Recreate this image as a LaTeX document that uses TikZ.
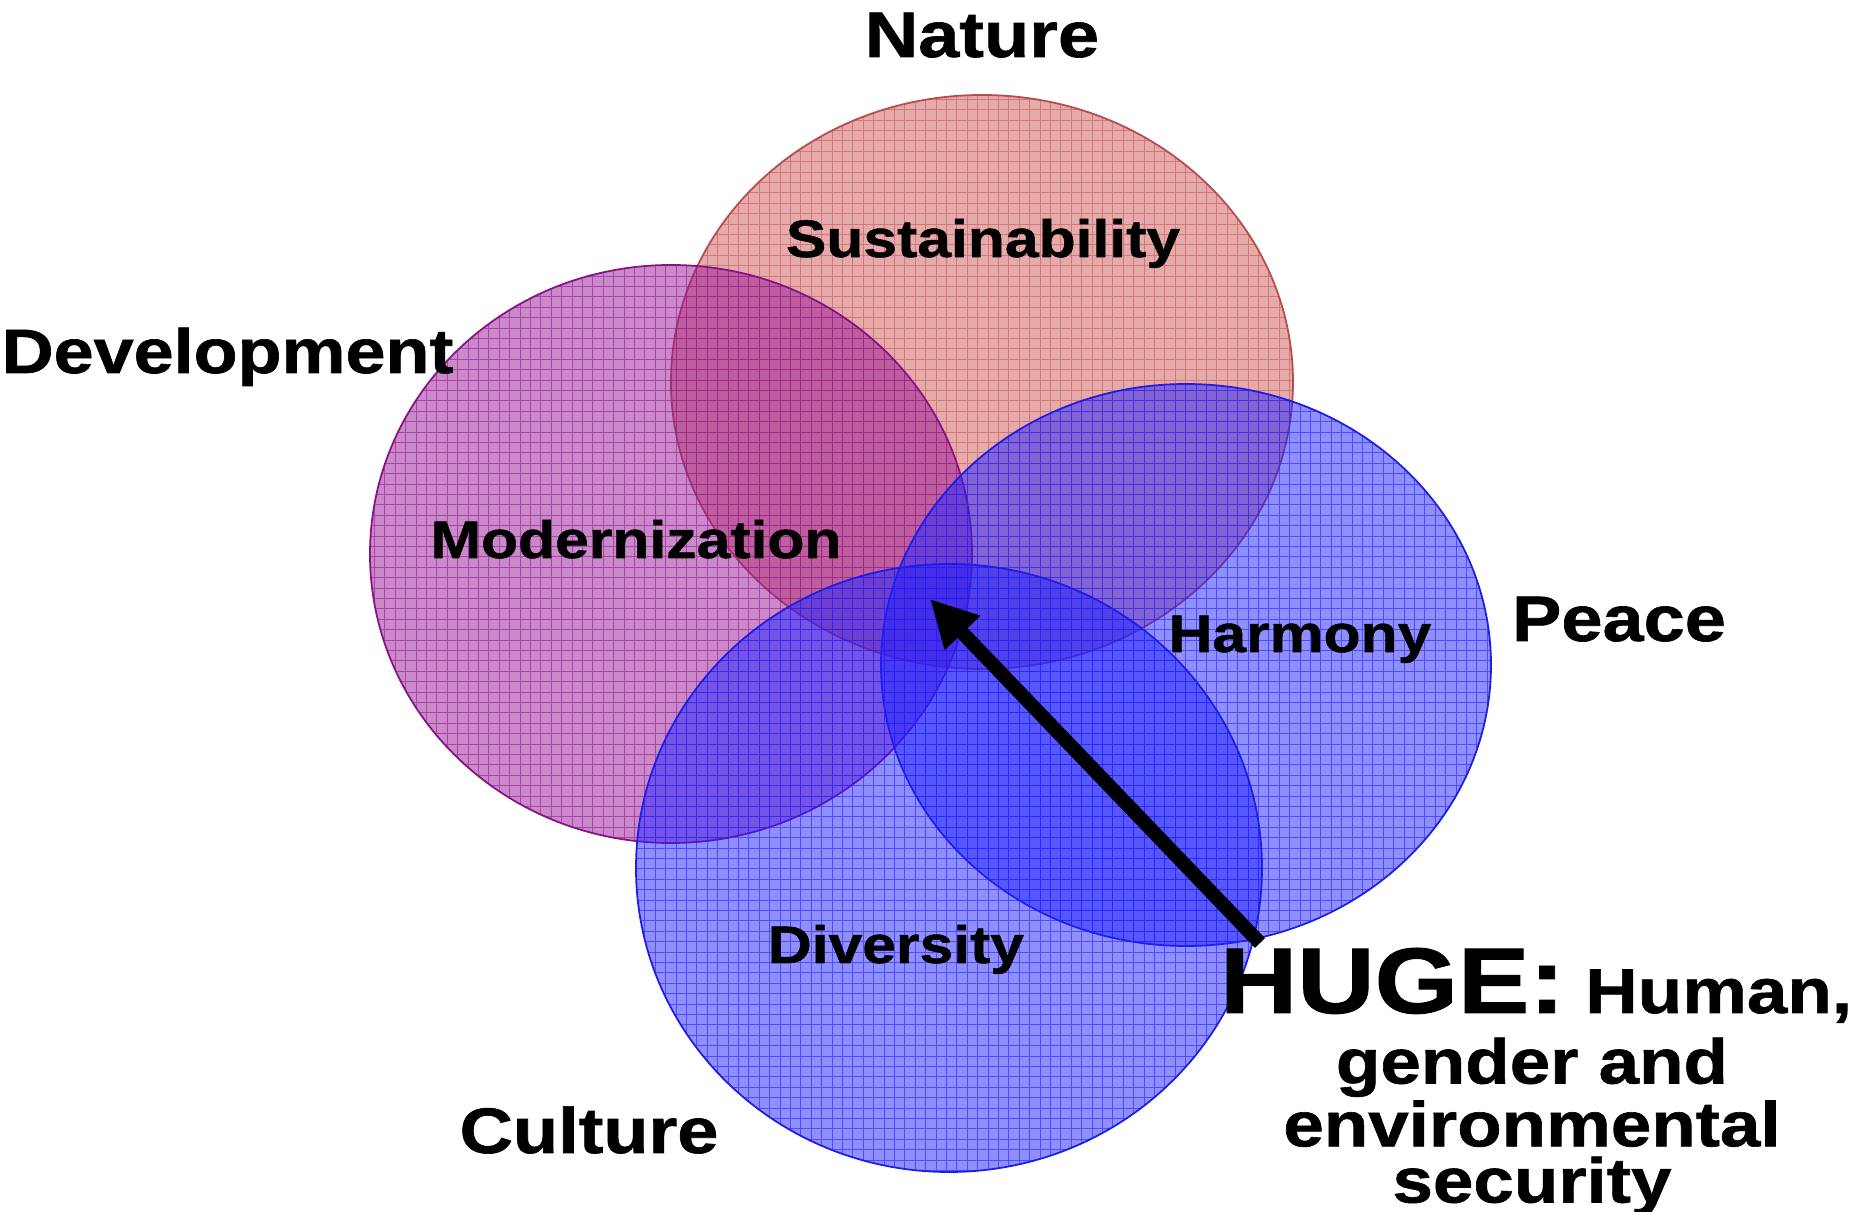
\documentclass[tikz,border=0pt]{standalone}
\usepackage{fontspec}
\setmainfont{Liberation Sans}[FakeStretch=1.15, FakeBold=1]
\usetikzlibrary{arrows.meta}
\definecolor{natred}{HTML}{CC5555}
\definecolor{devpurple}{HTML}{951595}
\definecolor{peaceblue}{HTML}{2020FF}

\begin{document}
\begin{tikzpicture}[font=\bfseries,
    outer/.style={font=\fontsize{18.3}{16}\selectfont\bfseries, anchor=base},
    inner/.style={font=\fontsize{15}{18}\selectfont\bfseries, anchor=base}]
  \useasboundingbox (0,0) rectangle (18.72,12.12);
  % four overlapping areas
  \foreach \col/\ctr/\rx/\ry in {natred/{9.82,8.30}/3.11/2.87,
      devpurple/{6.71,6.58}/3.01/2.89, peaceblue/{11.86,5.47}/3.05/2.81,
      peaceblue/{9.49,3.44}/3.13/3.04} {
    \begin{scope}
      \clip (\ctr) ellipse [x radius=\rx, y radius=\ry];
      \fill[\col, opacity=.5] (\ctr) ellipse [x radius=\rx, y radius=\ry];
      \draw[\col, opacity=.6, line width=.25pt, step=1.04mm] (0,0) grid (18.72,12.12);
    \end{scope}
    \draw[\col!90!black, line width=.5pt] (\ctr) ellipse [x radius=\rx, y radius=\ry];
  }
  \node[outer] (nature) at (9.82,11.55) {Nature};
  \node[inner] (sust) at (9.83,9.55) {Sustainability};
  \node[outer, font=\fontsize{17.8}{16}\selectfont\bfseries, anchor=base west,
    inner sep=0pt] (dev) at (0.01,8.39) {Development};
  \node[inner] (modern) at (6.36,6.54) {Modernization};
  \node[inner] (harmony) at (13.00,5.60) {Harmony};
  \node[outer] (peace) at (16.19,5.71) {Peace};
  \node[inner] (div) at (8.96,2.49) {Diversity};
  \node[outer] (culture) at (5.89,0.59) {Culture};
  \coordinate (tail) at (12.60,2.69);
  \coordinate (core) at (9.30,6.13);
  \draw[-{Triangle[length=4.7mm,width=4.6mm]}, line width=1.4mm] (tail) -- (core);
  \node[outer, font=\fontsize{18}{16}\selectfont\bfseries, inner sep=0pt] (huge)
    at (15.36,1.99) {{\fontsize{26.5}{30}\selectfont HUGE:} Human,};
  \node[outer, font=\fontsize{18}{16}\selectfont\bfseries, align=center, anchor=north,
    inner sep=0pt] (sec) at (15.32,1.75) {gender and\\environmental\\security};
\end{tikzpicture}
\end{document}
